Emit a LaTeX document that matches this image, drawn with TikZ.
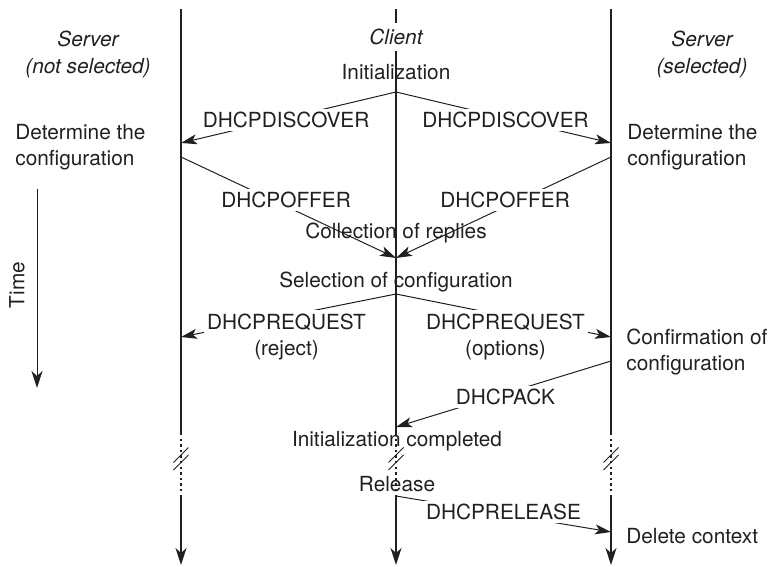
\documentclass[tikz,border=0pt]{standalone}
\usepackage{fontspec}
\setmainfont{TeX Gyre Heros}
\usepackage{tikz}
\usetikzlibrary{positioning,arrows.meta}
\definecolor{dhInk}{HTML}{231F20}
\definecolor{dhWhite}{HTML}{FFFFFF}
\tikzset{
  dh-text/.style={font=\fontsize{10.4}{13}\selectfont, text=dhInk,
    inner sep=0pt},
  dh-head/.style={dh-text, font=\fontsize{10.4}{13.5}\selectfont\itshape,
    align=center},
  dh-note/.style={dh-text, align=left, anchor=west},
  dh-life/.style={draw=dhInk, line width=0.8pt},
  dh-dots/.style={draw=dhInk, line width=0.8pt,
    dash pattern=on 1.2pt off 1.6pt},
  dh-break/.style={draw=dhInk, line width=0.45pt},
  dh-end/.style={dh-life, -{Stealth[length=8.5pt, width=5.5pt, inset=2.5pt]}},
  dh-time/.style={draw=dhInk, line width=0.5pt,
    -{Stealth[length=8.5pt, width=5.5pt, inset=2.5pt]}},
  dh-msg/.style={draw=dhInk, line width=0.5pt,
    -{Stealth[length=8pt, width=5pt, inset=2pt]}},
  dh-label/.style={dh-text, fill=dhWhite, inner sep=1.5pt, align=center,
    midway}
}
\begin{document}
\begin{tikzpicture}[x=0.5pt, y=-0.5pt]
\useasboundingbox (0,0) rectangle (774,566);

% column heads
\node[dh-head] (srvL) at (88,54) {Server\\(not selected)};
\node[dh-head, inner sep=3pt] (client) at (396,37) {Client};
\node[dh-head] (srvR) at (702,54) {Server\\(selected)};

% lifelines
\coordinate (lTop) at (181,9);
\coordinate (cTop) at (396,9);
\coordinate (rTop) at (611,9);
\coordinate (lCut) at (181,433);
\coordinate (cCut) at (396,433);
\coordinate (rCut) at (611,433);
\coordinate (lResume) at (181,497);
\coordinate (cResume) at (396,497);
\coordinate (rResume) at (611,497);
\coordinate (lEnd) at (181,565);
\coordinate (cEnd) at (396,565);
\coordinate (rEnd) at (611,565);

\draw[dh-life] (lTop) -- (lCut);
\draw[dh-life] (cTop) -- (client.north);
\draw[dh-life] (client.south) -- (cCut);
\draw[dh-life] (rTop) -- (rCut);
\draw[dh-dots] (lCut) -- (lResume);
\draw[dh-dots] (cCut) -- (cResume);
\draw[dh-dots] (rCut) -- (rResume);
\draw[dh-end] (lResume) -- (lEnd);
\draw[dh-end] (cResume) -- (cEnd);
\draw[dh-end] (rResume) -- (rEnd);

% time gaps
\foreach \lx in {181,396,611} {
  \draw[dh-break] (\lx-7.5,462.5) -- (\lx+7.5,447.5);
  \draw[dh-break] (\lx-7.5,470) -- (\lx+7.5,455);
}

% time axis
\coordinate (tTop) at (37,189);
\coordinate (tEnd) at (37,388);
\draw[dh-time] (tTop) -- (tEnd);
\node[dh-text, rotate=90] (time) at (17,285) {Time};

% states
\node[dh-text] (init) at (396,72) {Initialization};
\node[dh-note] (detL) at (15,147) {Determine the\\configuration};
\node[dh-note] (detR) at (627,147) {Determine the\\configuration};
\node[dh-text] (collect) at (396,233) {Collection of replies};
\node[dh-text] (select) at (396,282) {Selection of configuration};
\node[dh-note] (confirm) at (626,352) {Confirmation of\\configuration};
\node[dh-text] (done) at (397,441) {Initialization completed};
\node[dh-text] (release) at (397,484) {Release};
\node[dh-note] (delete) at (626,536) {Delete context};

% message points
\coordinate (cInit) at (396,92);
\coordinate (lDisc) at (181,143);
\coordinate (rDisc) at (611,143);
\coordinate (lOffer) at (181,157);
\coordinate (rOffer) at (611,157);
\coordinate (cColl) at (396,258);
\coordinate (cSel) at (396,294);
\coordinate (lReq) at (181,337);
\coordinate (rReq) at (611,337);
\coordinate (rAck) at (611,361);
\coordinate (cAck) at (396,427);
\coordinate (cRel) at (396,496);
\coordinate (rRel) at (611,532);

% messages
\draw[dh-msg] (cInit) -- (lDisc)
  node[dh-label, xshift=-1.2pt, yshift=-1.2pt] {DHCPDISCOVER};
\draw[dh-msg] (cInit) -- (rDisc)
  node[dh-label, xshift=1pt, yshift=-1.2pt] {DHCPDISCOVER};
\draw[dh-msg] (lOffer) -- (cColl)
  node[dh-label, xshift=-1.2pt, yshift=3.7pt] {DHCPOFFER};
\draw[dh-msg] (rOffer) -- (cColl)
  node[dh-label, xshift=0.8pt, yshift=3.7pt] {DHCPOFFER};
\draw[dh-msg] (cSel) -- (lReq)
  node[dh-label, xshift=-1pt, yshift=-10.5pt] {DHCPREQUEST\\(reject)};
\draw[dh-msg] (cSel) -- (rReq)
  node[dh-label, xshift=1pt, yshift=-10.5pt] {DHCPREQUEST\\(options)};
\draw[dh-msg] (rAck) -- (cAck)
  node[dh-label, xshift=1pt, yshift=-1.3pt] {DHCPACK};
\draw[dh-msg] (cRel) -- (rRel)
  node[dh-label, yshift=1pt] {DHCPRELEASE};
\end{tikzpicture}
\end{document}
